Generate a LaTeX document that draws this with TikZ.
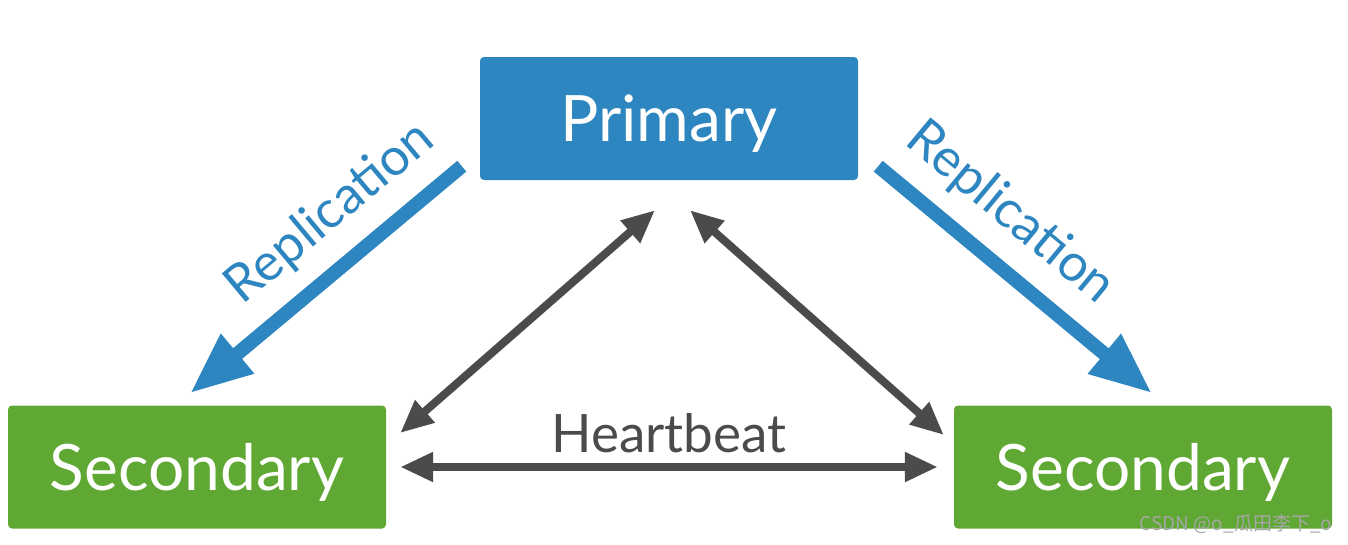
\documentclass[tikz,border=0pt]{standalone}
\usepackage{fontspec}
\setmainfont{Lato}
\newfontfamily\cjkfont{Noto Sans CJK SC}
\usetikzlibrary{arrows.meta}
\definecolor{primblue}{HTML}{2E86C1}
\definecolor{secgreen}{HTML}{5FA833}
\definecolor{beatgray}{HTML}{4D4B4A}
\tikzset{basic/.style={rounded corners=4pt,text=white,text depth=0pt,
                       minimum width=378pt,minimum height=123pt,
                       font=\fontsize{64}{64}\selectfont}}
\tikzset{primary/.style={basic,fill=primblue}}
\tikzset{secondary/.style={basic,fill=secgreen}}

\begin{document}
\begin{tikzpicture}[x=1pt, y=-1pt, >={Triangle[length=33pt,width=28pt]}]
    \tikzstyle{beat}=[<->,line width=8pt,draw=beatgray]
    \tikzstyle{repl}=[-{Triangle[length=62pt,width=48pt]},line width=14pt,draw=primblue]
    \tikzstyle{annot}=[font=\fontsize{52}{52}\selectfont,text=primblue]

    \useasboundingbox (0,0) rectangle (1348,544);

    % Draw the primary node
    \node[primary] (Prim) at (669,118.5) {Primary};

    % Draw the secondary nodes
    \foreach \name / \x in {1/197,2/1143}
        \node[secondary] (Sec-\name) at (\x,467) {Secondary};

    % Replication from the primary to both secondaries
    \draw[repl] ([xshift=-18pt,yshift=14pt]Prim.south west) --
        node[annot,sloped,pos=0.37,above=14pt] (rep-1) {Replication}
        ([xshift=-7pt,yshift=12pt]Sec-1.north);
    \draw[repl] ([xshift=20pt,yshift=14pt]Prim.south east) --
        node[annot,sloped,pos=0.37,above=14pt] (rep-2) {Replication}
        ([xshift=9pt,yshift=12pt]Sec-2.north);

    % Heartbeat between every pair of members
    \draw[beat] ([xshift=14pt,yshift=34pt]Sec-1.east) -- ([xshift=-14pt,yshift=-30pt]Prim.south);
    \draw[beat] ([xshift=21pt,yshift=-30pt]Prim.south) -- ([xshift=-10pt,yshift=32pt]Sec-2.west);
    \draw[beat] ([xshift=14pt]Sec-1.east) --
        node[above=7pt,font=\fontsize{53}{53}\selectfont,text=beatgray] (hb) {Heartbeat}
        ([xshift=-16pt]Sec-2.west);

    \node[font=\cjkfont\fontsize{19}{19}\selectfont,text=gray!70] (mark) at (1236,524) {CSDN @o\_瓜田李下\_o};
\end{tikzpicture}
\end{document}
